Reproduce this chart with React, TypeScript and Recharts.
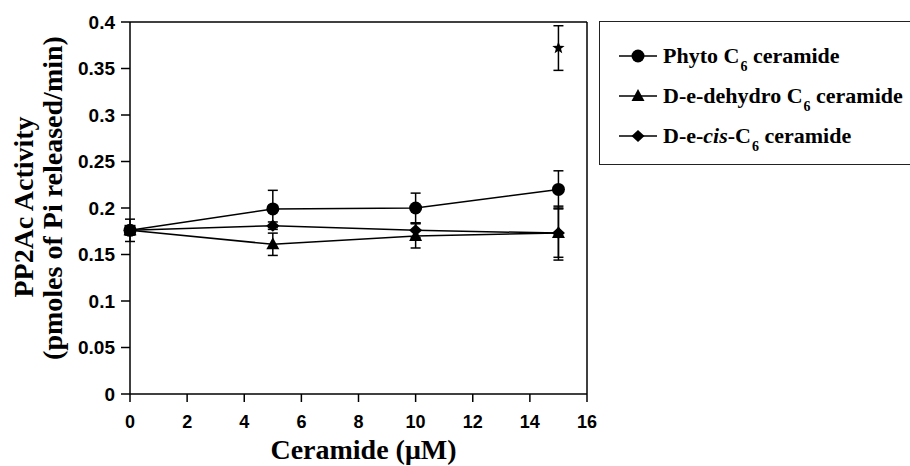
import React from "react";
import {
  ComposedChart,
  Line,
  Scatter,
  XAxis,
  YAxis,
  ErrorBar,
  ReferenceLine,
  Label,
} from "recharts";

// ceramide dose (µM)
const doses = [0, 5, 10, 15];
const xTicks = [0, 2, 4, 6, 8, 10, 12, 14, 16];
const yTicks = [0, 0.05, 0.1, 0.15, 0.2, 0.25, 0.3, 0.35, 0.4];

const phyto = [0.176, 0.199, 0.2, 0.22];
const phytoErr = [0, 0.02, 0.016, 0.02];
const dehydro = [0.176, 0.161, 0.17, 0.173];
const dehydroErr = [0, 0.012, 0.013, 0.026];
const cis = [0.176, 0.181, 0.176, 0.173];
const cisErr = [0, 0.004, 0.008, 0.029];

// untreated control and the starred point
const controlX = [0];
const controlY = [0.176];
const controlErr = [0.012];
const starX = [15];
const starY = [0.372];
const starErr = [0.024];

const legendItems = [
  { key: "circle", pre: "Phyto C", sub: "6", post: " ceramide" },
  { key: "triangle", pre: "D-e-dehydro C", sub: "6", post: " ceramide" },
  { key: "diamond", pre: "D-e-", italic: "cis", mid: "-C", sub: "6", post: " ceramide" },
];

const data = doses.map((x, i) => ({
  x,
  phyto: phyto[i],
  phytoErr: phytoErr[i],
  dehydro: dehydro[i],
  dehydroErr: dehydroErr[i],
  cis: cis[i],
  cisErr: cisErr[i],
}));
const controlData = controlX.map((x, i) => ({ x, y: controlY[i], err: controlErr[i] }));
const starData = starX.map((x, i) => ({ x, y: starY[i], err: starErr[i] }));

const serif = '"Liberation Serif", "Times New Roman", serif';
const sans = '"Liberation Sans", Arial, sans-serif';

function Marker({ type, cx, cy }: { type: string; cx: number; cy: number }) {
  if (type === "circle") return <circle cx={cx} cy={cy} r={6.5} fill="#000" />;
  if (type === "triangle")
    return <polygon points={`${cx},${cy - 7} ${cx - 6.5},${cy + 5} ${cx + 6.5},${cy + 5}`} fill="#000" />;
  if (type === "diamond")
    return <polygon points={`${cx},${cy - 6} ${cx + 6.5},${cy} ${cx},${cy + 6} ${cx - 6.5},${cy}`} fill="#000" />;
  if (type === "square") return <rect x={cx - 5.5} y={cy - 5.5} width={11} height={11} fill="#000" />;
  // star
  const pts: string[] = [];
  for (let k = 0; k < 10; k++) {
    const r = k % 2 === 0 ? 6.5 : 2.7;
    const a = -Math.PI / 2 + (k * Math.PI) / 5;
    pts.push(`${cx + r * Math.cos(a)},${cy + r * Math.sin(a)}`);
  }
  return <polygon points={pts.join(" ")} fill="#000" />;
}

const dotFor = (type: string) => (p: any) =>
  <Marker key={`${type}-${p.index}`} type={type} cx={p.cx} cy={p.cy} />;

// wrapped in <g> so recharts doesn't override the text props
function XTick(props: any) {
  const { x, y, payload } = props;
  return (
    <g transform={`translate(${x},${y})`}>
      <text x={0} y={0} dy={13} textAnchor="middle" fontFamily={sans} fontWeight={700} fontSize={18} fill="#000">
        {payload.value}
      </text>
    </g>
  );
}

function YTick(props: any) {
  const { x, y, payload } = props;
  return (
    <g transform={`translate(${x},${y})`}>
      <text x={0} y={0} dy={6.5} textAnchor="end" fontFamily={sans} fontWeight={700} fontSize={19} fill="#000">
        {payload.value}
      </text>
    </g>
  );
}

function YTitle({ viewBox }: any) {
  const cy = viewBox.y + viewBox.height / 2;
  const style = { fontFamily: serif, fontWeight: 700, fontSize: 28, fill: "#000" };
  return (
    <g>
      <text x={33} y={cy - 1} transform={`rotate(-90, 33, ${cy - 1})`} textAnchor="middle" style={style}>
        PP2Ac Activity
      </text>
      <text x={62} y={cy - 10} transform={`rotate(-90, 62, ${cy - 10})`} textAnchor="middle" style={style}>
        (pmoles of Pi released/min)
      </text>
    </g>
  );
}

function XTitle({ viewBox }: any) {
  return (
    <text
      x={viewBox.x + viewBox.width / 2 + 5}
      y={459}
      textAnchor="middle"
      style={{ fontFamily: serif, fontWeight: 700, fontSize: 28, fill: "#000" }}
    >
      Ceramide (μM)
    </text>
  );
}

function LegendBox() {
  return (
    <div
      style={{
        position: "absolute",
        left: 599,
        top: 21,
        width: 330,
        height: 142,
        border: "1.5px solid #222",
        fontFamily: serif,
        fontWeight: 700,
        fontSize: 22,
        color: "#000",
      }}
    >
      {legendItems.map((it, i) => (
        <div
          key={it.key}
          style={{
            position: "absolute",
            left: 19,
            top: 34 + i * 40 - 16,
            height: 32,
            display: "flex",
            alignItems: "center",
            whiteSpace: "nowrap",
          }}
        >
          <svg width={40} height={20} style={{ marginRight: 4 }}>
            <line x1={0} y1={10} x2={38} y2={10} stroke="#000" strokeWidth={1.5} />
            <Marker type={it.key} cx={19} cy={10} />
          </svg>
          <span>
            {it.pre}
            {it.italic ? <i>{it.italic}</i> : null}
            {it.mid ?? ""}
            <span style={{ fontSize: 14, position: "relative", top: 8, marginLeft: 1 }}>{it.sub}</span>
            {it.post}
          </span>
        </div>
      ))}
    </div>
  );
}

export default function App() {
  return (
    <div
      style={{
        position: "fixed",
        left: 0,
        top: 0,
        width: 910,
        height: 466,
        overflow: "hidden",
        background: "#fff",
      }}
    >
      <ComposedChart
        width={910}
        height={466}
        data={data}
        margin={{ top: 22, right: 323, left: 50, bottom: 42 }}
      >
        <XAxis
          dataKey="x"
          type="number"
          domain={[0, 16]}
          ticks={xTicks}
          height={30}
          tick={XTick}
          tickSize={8}
          tickMargin={13}
          axisLine={{ stroke: "#000", strokeWidth: 1.5 }}
          tickLine={{ stroke: "#000", strokeWidth: 1.5 }}
        >
          <Label content={XTitle} />
        </XAxis>
        <YAxis
          type="number"
          domain={[0, 0.4]}
          ticks={yTicks}
          width={80}
          tick={YTick}
          tickSize={9}
          tickMargin={6}
          axisLine={{ stroke: "#000", strokeWidth: 1.5 }}
          tickLine={{ stroke: "#000", strokeWidth: 1.5 }}
        >
          <Label content={YTitle} />
        </YAxis>
        <ReferenceLine y={0.4} stroke="#000" strokeWidth={1.5} />
        <ReferenceLine x={16} stroke="#000" strokeWidth={1.5} />
        <Line
          dataKey="phyto"
          type="linear"
          stroke="#000"
          strokeWidth={1.5}
          dot={dotFor("circle")}
          activeDot={false}
          isAnimationActive={false}
        >
          <ErrorBar dataKey="phytoErr" width={5} stroke="#000" strokeWidth={1.5} direction="y" />
        </Line>
        <Line
          dataKey="dehydro"
          type="linear"
          stroke="#000"
          strokeWidth={1.5}
          dot={dotFor("triangle")}
          activeDot={false}
          isAnimationActive={false}
        >
          <ErrorBar dataKey="dehydroErr" width={5} stroke="#000" strokeWidth={1.5} direction="y" />
        </Line>
        <Line
          dataKey="cis"
          type="linear"
          stroke="#000"
          strokeWidth={1.5}
          dot={dotFor("diamond")}
          activeDot={false}
          isAnimationActive={false}
        >
          <ErrorBar dataKey="cisErr" width={5} stroke="#000" strokeWidth={1.5} direction="y" />
        </Line>
        <Scatter
          data={controlData}
          dataKey="y"
          shape={(p: any) => <Marker type="square" cx={p.cx} cy={p.cy} />}
          isAnimationActive={false}
        >
          <ErrorBar dataKey="err" width={5} stroke="#000" strokeWidth={1.5} direction="y" />
        </Scatter>
        <Scatter
          data={starData}
          dataKey="y"
          shape={(p: any) => <Marker type="star" cx={p.cx} cy={p.cy} />}
          isAnimationActive={false}
        >
          <ErrorBar dataKey="err" width={5} stroke="#000" strokeWidth={1.5} direction="y" />
        </Scatter>
      </ComposedChart>
      <LegendBox />
    </div>
  );
}
